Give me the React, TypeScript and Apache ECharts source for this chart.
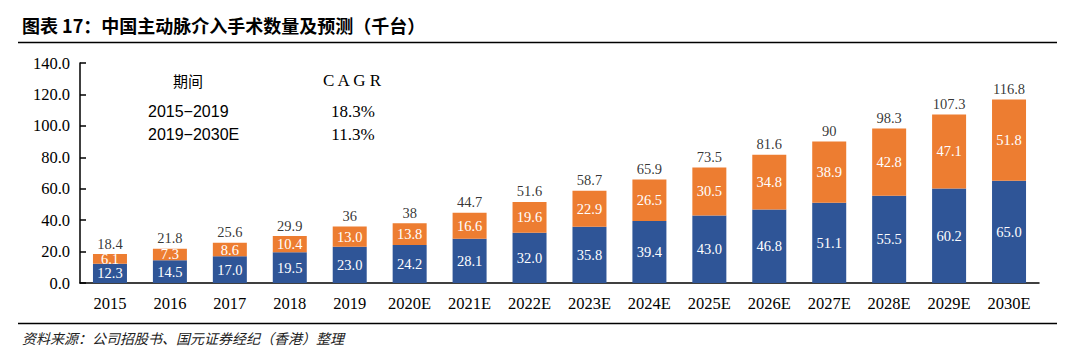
import React, { useEffect, useRef } from "react";
import * as echarts from "echarts";

const categories = ["2015", "2016", "2017", "2018", "2019", "2020E", "2021E", "2022E", "2023E", "2024E", "2025E", "2026E", "2027E", "2028E", "2029E", "2030E"];
const blueValues = [12.3, 14.5, 17.0, 19.5, 23.0, 24.2, 28.1, 32.0, 35.8, 39.4, 43.0, 46.8, 51.1, 55.5, 60.2, 65.0];
const orangeValues = [6.1, 7.3, 8.6, 10.4, 13.0, 13.8, 16.6, 19.6, 22.9, 26.5, 30.5, 34.8, 38.9, 42.8, 47.1, 51.8];
const totals = [18.4, 21.8, 25.6, 29.9, 36, 38, 44.7, 51.6, 58.7, 65.9, 73.5, 81.6, 90, 98.3, 107.3, 116.8];
const cagrPeriods = ["2015−2019", "2019−2030E"];
const cagrValues = ["18.3%", "11.3%"];
const yTicks = { min: 0, max: 140, interval: 20 };

const BLUE = "#2F5597";
const ORANGE = "#ED7D31";
const SERIF = "'Liberation Serif', 'Times New Roman', serif";
const CJK = "'Noto Sans CJK SC', sans-serif";

export default function App() {
  const ref = useRef<HTMLDivElement>(null);
  useEffect(() => {
    if (!ref.current) return;
    const chart = echarts.init(ref.current, null, { renderer: "svg" });
    chart.setOption({
      animation: false,
      backgroundColor: "#fff",
      grid: { left: 80, right: 36, top: 63, bottom: 73, containLabel: false },
      xAxis: {
        type: "category",
        data: categories,
        axisLine: { lineStyle: { color: "#000", width: 1.5 } },
        axisTick: { inside: true, length: 6, lineStyle: { color: "#000", width: 1.5 } },
        axisLabel: { color: "#000", fontFamily: SERIF, fontSize: 16.5, margin: 12 },
      },
      yAxis: {
        type: "value",
        min: yTicks.min,
        max: yTicks.max,
        interval: yTicks.interval,
        splitLine: { show: false },
        axisLine: { show: true, lineStyle: { color: "#000", width: 1.5 } },
        axisTick: { show: true, inside: true, length: 6, lineStyle: { color: "#000", width: 1.5 } },
        axisLabel: {
          color: "#000",
          fontFamily: SERIF,
          fontSize: 16.5,
          margin: 10,
          formatter: (v: number) => v.toFixed(1),
        },
      },
      series: [
        {
          type: "bar",
          stack: "a",
          data: blueValues,
          barWidth: 34,
          itemStyle: { color: BLUE },
          label: {
            show: true,
            position: "inside",
            color: "#fff",
            fontFamily: SERIF,
            fontSize: 14.5,
            formatter: (p: any) => Number(p.value).toFixed(1),
          },
        },
        {
          type: "bar",
          stack: "a",
          data: orangeValues,
          barWidth: 34,
          itemStyle: { color: ORANGE },
          label: {
            show: true,
            position: "inside",
            color: "#fff",
            fontFamily: SERIF,
            fontSize: 14.5,
            formatter: (p: any) => Number(p.value).toFixed(1),
          },
        },
        {
          type: "scatter",
          data: totals,
          symbolSize: 0,
          itemStyle: { color: "transparent" },
          label: {
            show: true,
            position: "top",
            distance: 3,
            color: "#000",
            fontFamily: SERIF,
            fontSize: 14.5,
            formatter: (p: any) => String(p.value),
          },
        },
      ],
      graphic: [
        {
          type: "text",
          left: 22,
          top: 16,
          style: { text: "图表 17：中国主动脉介入手术数量及预测（千台）", fontFamily: CJK, fontWeight: "bold", fontSize: 18, fill: "#000" },
        },
        { type: "line", shape: { x1: 18, y1: 42.5, x2: 1057, y2: 42.5 }, style: { stroke: "#000", lineWidth: 1.5 } },
        { type: "line", shape: { x1: 18, y1: 323.5, x2: 1057, y2: 323.5 }, style: { stroke: "#000", lineWidth: 1.5 } },
        {
          type: "text",
          left: 22,
          top: 331,
          style: { text: "资料来源：公司招股书、国元证券经纪（香港）整理", fontFamily: CJK, fontStyle: "italic", fontSize: 14, fill: "#222" },
        },
        {
          type: "text",
          x: 188,
          y: 80,
          style: { text: "期间", fontFamily: CJK, fontSize: 15, fill: "#000", align: "center", verticalAlign: "middle" },
        },
        {
          type: "text",
          x: 352,
          y: 80,
          style: { text: "C A G R", fontFamily: SERIF, fontSize: 17, fill: "#000", align: "center", verticalAlign: "middle" },
        },
        {
          type: "text",
          x: 148,
          y: 111,
          style: { text: cagrPeriods[0], fontFamily: "'Liberation Sans', Arial, sans-serif", fontSize: 16, fill: "#000", align: "left", verticalAlign: "middle" },
        },
        {
          type: "text",
          x: 148,
          y: 134,
          style: { text: cagrPeriods[1], fontFamily: "'Liberation Sans', Arial, sans-serif", fontSize: 16, fill: "#000", align: "left", verticalAlign: "middle" },
        },
        {
          type: "text",
          x: 353,
          y: 111,
          style: { text: cagrValues[0], fontFamily: SERIF, fontSize: 17, fill: "#000", align: "center", verticalAlign: "middle" },
        },
        {
          type: "text",
          x: 353,
          y: 134,
          style: { text: cagrValues[1], fontFamily: SERIF, fontSize: 17, fill: "#000", align: "center", verticalAlign: "middle" },
        },
      ],
    });
    return () => chart.dispose();
  }, []);
  return <div ref={ref} style={{ position: "absolute", left: 0, top: 0, width: 1075, height: 356 }} />;
}
